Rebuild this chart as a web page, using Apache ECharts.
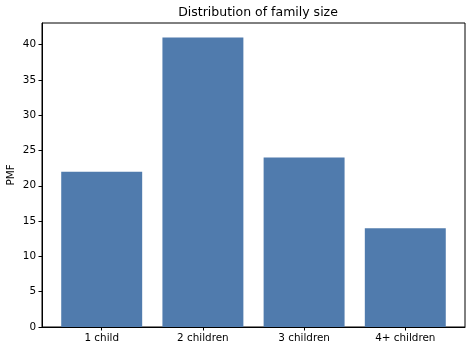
<!DOCTYPE html>
<html>
<head>
<meta charset="utf-8">
<script src="https://cdn.jsdelivr.net/npm/echarts@6/dist/echarts.min.js"></script>
<style>
  html, body { margin: 0; padding: 0; background: #fff; }
  #chart { width: 472px; height: 352px; }
</style>
</head>
<body>
<div id="chart"></div>
<script>
// family size categories and their PMF values (percent)
var categories = ['1 child', '2 children', '3 children', '4+ children'];
var pmfValues = [22, 41, 24, 14];
var yTicks = [0, 5, 10, 15, 20, 25, 30, 35, 40];

var font = 'DejaVu Sans';
var barData = pmfValues.map(function (v, i) { return [i, v]; });
var catPos = categories.map(function (c, i) { return i; });

var myChart = echarts.init(document.getElementById('chart'));
var option = {
    animation: false,
    title: {
        text: 'Distribution of family size',
        left: 253,
        top: 1,
        textAlign: 'center',
        textStyle: { fontFamily: font, fontSize: 12.5, fontWeight: 'normal', color: '#000' }
    },
    grid: {
        left: 42, right: 7, top: 23, bottom: 25,
        outerBoundsMode: 'none',
        containLabel: false,
        show: true, borderColor: '#000', borderWidth: 1, backgroundColor: 'transparent'
    },
    xAxis: {
        type: 'value',
        min: -0.59,
        max: 3.59,
        splitLine: { show: false },
        axisLine: { show: true, onZero: false, lineStyle: { color: '#000', width: 1 } },
        axisTick: { show: true, customValues: catPos, length: 3.5, lineStyle: { color: '#000' } },
        axisLabel: {
            customValues: catPos,
            fontFamily: font, fontSize: 10.4, color: '#000', margin: 6,
            formatter: function (v) { return categories[Math.round(v)]; }
        }
    },
    yAxis: {
        type: 'value',
        min: 0,
        max: 43.05,
        interval: 5,
        name: 'PMF',
        nameLocation: 'middle',
        nameRotate: 90,
        nameGap: 26,
        nameMoveOverlap: false,
        nameTextStyle: { fontFamily: font, fontSize: 10.4, color: '#000' },
        splitLine: { show: false },
        axisLine: { show: true, onZero: false, lineStyle: { color: '#000', width: 1 } },
        axisTick: { show: true, customValues: yTicks, length: 3.5, lineStyle: { color: '#000' } },
        axisLabel: {
            customValues: yTicks,
            fontFamily: font, fontSize: 10.4, color: '#000', margin: 6
        }
    },
    series: [{
        type: 'bar',
        data: barData,
        barWidth: '80%',
        itemStyle: { color: '#507bad' }
    }]
};
myChart.setOption(option);
</script>
</body>
</html>
